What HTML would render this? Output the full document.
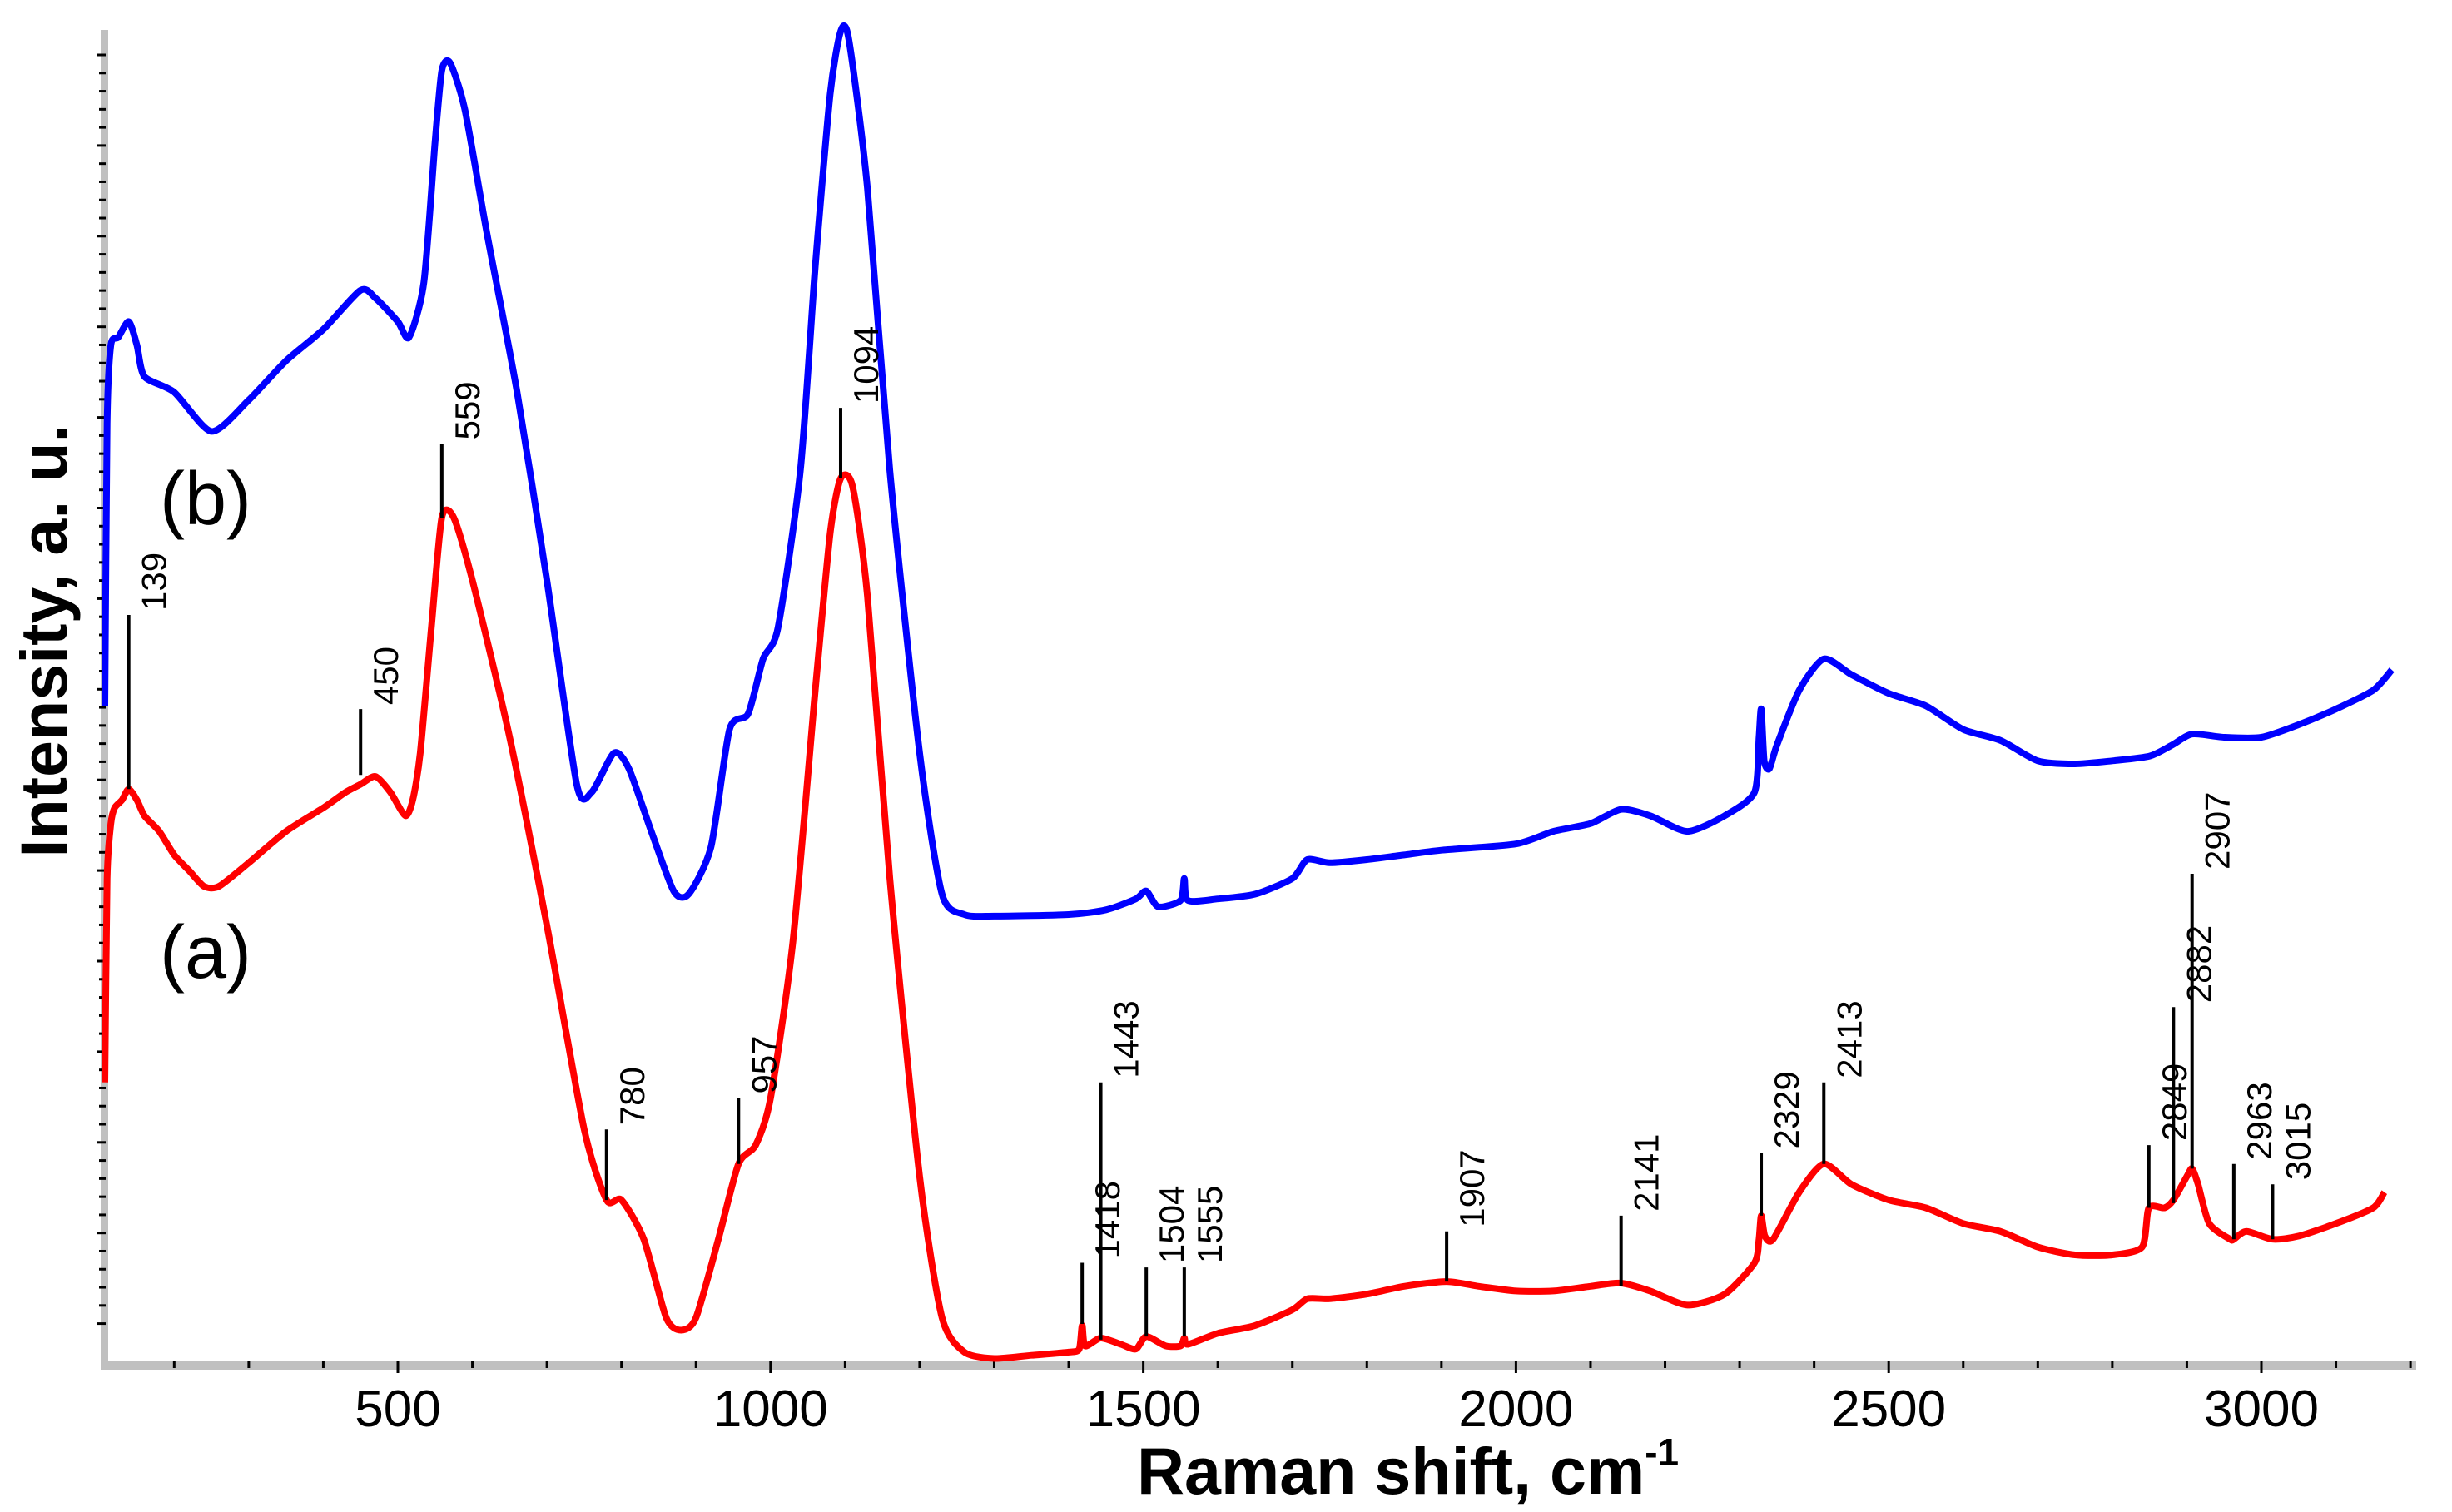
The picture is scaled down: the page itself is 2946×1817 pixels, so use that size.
<!DOCTYPE html>
<html><head><meta charset="utf-8">
<style>
html,body{margin:0;padding:0;background:#fff;}
svg{display:block;font-family:"Liberation Sans",Arial,sans-serif;}
</style></head>
<body>
<svg id="chart" width="2946" height="1817" viewBox="0 0 2946 1817" xmlns="http://www.w3.org/2000/svg">
<rect x="0" y="0" width="2946" height="1817" fill="#fff"/>
<g id="axes"></g>
<g id="series"></g>
<g id="annots"></g>
<text transform="translate(80,770) rotate(-90)" text-anchor="middle" font-size="79" font-weight="bold">Intensity, a. u.</text>
<text x="1366" y="1795" font-size="79" font-weight="bold">Raman shift, cm<tspan font-size="46" dy="-34">-1</tspan></text>
<text x="192" y="1175" font-size="90">(a)</text>
<text x="192" y="630" font-size="90">(b)</text>
</svg>
<script>
// x ticks
const xTicks = [500,1000,1500,2000,2500,3000];
const xTickLabels = ["500","1000","1500","2000","2500","3000"];
// spectrum (a) red: wavenumber, intensity (a.u.)
const aX = [107,110,115,120,130,139,150,160,180,200,220,240,260,300,350,400,430,450,470,490,510,520,530,545,559,575,600,650,700,750,780,800,830,860,880,900,930,957,980,1000,1030,1060,1080,1094,1110,1130,1160,1200,1230,1260,1300,1350,1400,1414,1418,1422,1443,1470,1490,1504,1530,1550,1555,1560,1600,1650,1700,1720,1750,1800,1850,1907,1950,2000,2050,2100,2141,2180,2230,2280,2320,2326,2329,2334,2345,2380,2413,2450,2500,2550,2600,2650,2700,2750,2800,2840,2849,2870,2882,2900,2907,2915,2930,2958,2963,2980,3015,3050,3100,3150,3165];
const aY = [180,310,345,355,360,367,360,350,340,325,315,305,305,320,340,355,365,370,375,365,350,360,390,470,540,540,500,400,280,150,105,105,80,30,22,30,80,128,140,170,270,430,530,565,560,490,310,120,30,8,4,6,8,10,25,12,17,13,10,18,12,12,17,13,20,25,35,42,42,45,50,53,50,47,47,50,52,47,38,45,65,80,95,82,80,110,128,115,105,100,90,85,75,70,70,75,100,100,105,120,125,115,90,80,80,85,80,82,90,100,110];
// spectrum (b) blue
const bX = [107,110,115,125,139,150,160,200,250,300,350,400,450,470,500,515,535,550,559,570,590,620,660,700,740,760,790,810,840,870,890,920,945,970,990,1010,1040,1060,1080,1094,1105,1130,1160,1200,1230,1260,1300,1400,1450,1490,1504,1520,1550,1555,1560,1600,1650,1700,1720,1750,1800,1850,1900,2000,2050,2100,2141,2180,2230,2280,2320,2326,2329,2333,2340,2350,2380,2413,2450,2500,2550,2600,2650,2700,2750,2800,2850,2880,2907,2950,3000,3050,3100,3150,3175];
const bY = [420,600,650,655,665,650,630,620,595,615,640,660,685,680,665,655,690,780,825,830,800,720,620,500,370,365,390,380,340,302,300,330,405,415,450,470,570,700,810,850,845,750,570,390,300,287,286,287,290,297,302,292,296,310,296,297,300,310,322,320,322,325,328,332,340,345,354,350,340,350,365,400,418,385,380,395,430,450,440,428,420,405,398,385,383,385,388,395,402,400,400,408,418,430,443];
// peak annotations: label value, line top intensity, line bottom intensity
const peakVals = [139,450,559,780,957,1094,1418,1443,1504,1555,1907,2141,2329,2413,2849,2882,2907,2963,3015];
const peakTop  = [478,418,587,150,170,610,65,180,62,62,85,95,135,180,140,228,313,128,115];
const peakBot  = [367,376,540,105,128,565,26,16,18,18,53,50,95,128,100,103,125,80,80];

const NS="http://www.w3.org/2000/svg";
const X0=30.2, KX=0.8956, Y0=1640, KY=1.885;
function sx(v){return X0+v*KX;}
function sy(v){return Y0-v*KY;}
function mk(tag,attrs,parent){const e=document.createElementNS(NS,tag);for(const k in attrs)e.setAttribute(k,attrs[k]);parent.appendChild(e);return e;}

const axes=document.getElementById('axes');
const leftBar=mk('rect',{x:121,y:36,width:9,height:1610,fill:'#c0c0c0'},axes);


const botBar=mk('rect',{x:121,y:1636,width:2782,height:10,fill:'#c0c0c0'},axes);


for(let v=200;v<=3200;v+=100){
  const major=(v%500===0);
  const t=mk('line',{x1:sx(v),x2:sx(v),y1:1636,y2:major?1650:1644,stroke:'#000','stroke-width':3},axes);
  
  
}
xTicks.forEach((v,i)=>{
  const t=mk('text',{x:sx(v),y:1714,'text-anchor':'middle','font-size':62},axes);
  t.textContent=xTickLabels[i];
  
  
});
for(let i=0;i<=70;i++){
  const y=66+i*21.78;
  if(y>1630)break;
  const major=(i%5===0);
  const t=mk('line',{x1:major?116:119,x2:127,y1:y,y2:y,stroke:'#000','stroke-width':3},axes);
  
  
}

const series=document.getElementById('series');
function path(xs,ys){
  const P=xs.map((x,i)=>[sx(x),sy(ys[i])]);
  let d='M'+P[0][0].toFixed(1)+','+P[0][1].toFixed(1);
  const k=0.12;
  for(let i=0;i<P.length-1;i++){
    const p0=P[Math.max(0,i-1)],p1=P[i],p2=P[i+1],p3=P[Math.min(P.length-1,i+2)];
    const c1=[p1[0]+(p2[0]-p0[0])*k,p1[1]+(p2[1]-p0[1])*k];
    const c2=[p2[0]-(p3[0]-p1[0])*k,p2[1]-(p3[1]-p1[1])*k];
    d+=' C'+c1[0].toFixed(1)+','+c1[1].toFixed(1)+' '+c2[0].toFixed(1)+','+c2[1].toFixed(1)+' '+p2[0].toFixed(1)+','+p2[1].toFixed(1);
  }
  return d;
}
const pb=mk('path',{d:path(bX,bY),fill:'none',stroke:'#0000ff','stroke-width':8,'stroke-linejoin':'round'},series);


const pa=mk('path',{d:path(aX,aY),fill:'none',stroke:'#ff0000','stroke-width':8,'stroke-linejoin':'round'},series);



const ann=document.getElementById('annots');
peakVals.forEach((v,i)=>{
  const x=sx(v);
  const l=mk('line',{x1:x,x2:x,y1:sy(peakTop[i]),y2:sy(peakBot[i]),stroke:'#000','stroke-width':4},ann);
  
  
  const t=mk('text',{transform:'translate('+(x+45)+','+(sy(peakTop[i])-5)+') rotate(-90)','font-size':42},ann);
  t.textContent=String(v);
  
  
});
</script>
</body></html>
